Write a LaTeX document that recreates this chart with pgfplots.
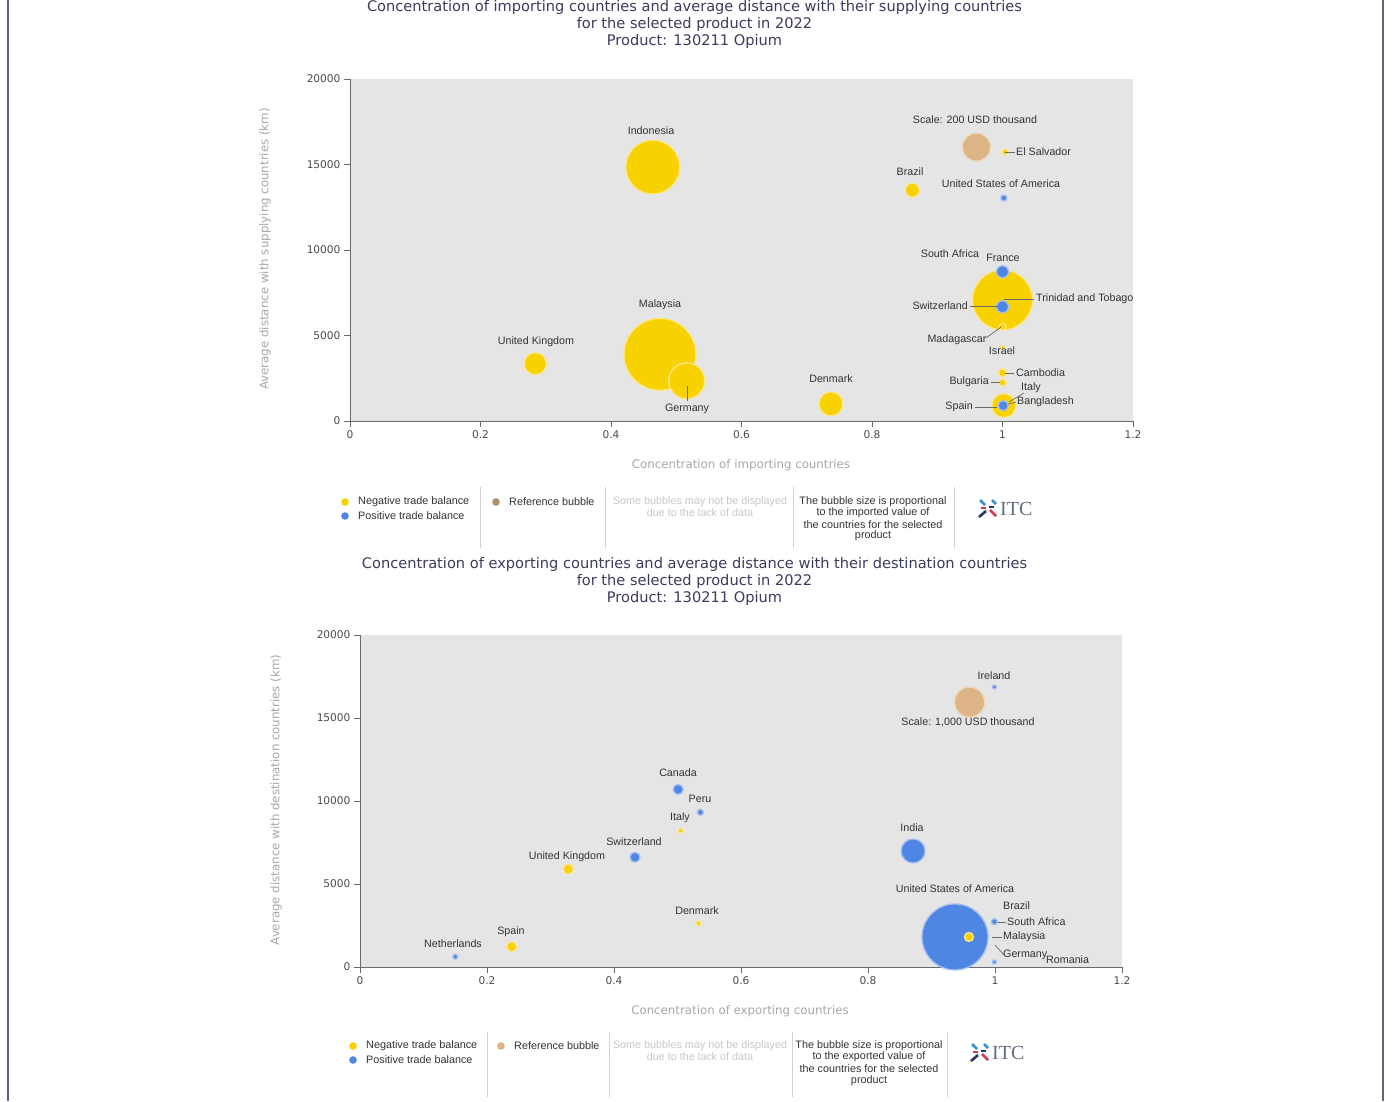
\documentclass[border=0pt]{standalone}
\usepackage{pgfplots}
\pgfplotsset{compat=1.18}
\usepackage{pgfplotstable}
\usepackage{fontspec}
\setmainfont{Liberation Sans}
\newfontfamily\dv{DejaVu Sans}
\newfontfamily\serifitc{Liberation Serif}

\definecolor{plotgray}{HTML}{E5E5E5}
\definecolor{axisgray}{HTML}{6A6A6A}
\definecolor{tickcol}{HTML}{4A4A4A}
\definecolor{ylw}{HTML}{F8D200}
\definecolor{ylwrim}{HTML}{FBE78A}
\definecolor{blu}{HTML}{4F86E3}
\definecolor{blurim}{HTML}{A3BFEF}
\definecolor{tanc}{HTML}{DDB485}
\definecolor{tanrim}{HTML}{EDD5B8}
\definecolor{titlecol}{HTML}{3B3B5E}
\definecolor{lblgray}{HTML}{A8A8A8}
\definecolor{txtcol}{HTML}{333333}
\definecolor{faint}{HTML}{C8C8C8}
\definecolor{sepgray}{HTML}{D2D2D2}
\definecolor{framecol}{HTML}{5B6585}
\definecolor{logoblue}{HTML}{3A8FD0}
\definecolor{logored}{HTML}{D9364F}
\definecolor{logonavy}{HTML}{2E3560}
\definecolor{logotext}{HTML}{646E7D}

% ---------- import chart data (x = concentration, y = distance km, r = bubble radius px)
\pgfplotstableread{
x y r name
0.475 3900 36 Malaysia
1.000 7080 30 TrinidadTobago
0.464 14850 27 Indonesia
0.516 2350 18 Germany
1.002 900 12 Bangladesh
0.737 1000 12 Denmark
0.284 3350 11 UnitedKingdom
0.862 13500 7 Brazil
1.000 2820 4 Cambodia
1.000 2240 3.5 Bulgaria
1.000 5510 3.5 Madagascar
1.004 15730 3 ElSalvador
1.000 4300 2 Israel
}\impneg
\pgfplotstableread{
x y r name
1.000 8730 6 France
1.000 6680 6 Switzerland
1.001 900 5 Spain
1.002 13040 3 USA
}\imppos
\pgfplotstableread{
x y r name
0.960 16020 14 Reference
}\impref

% ---------- export chart data
\pgfplotstableread{
x y r name
0.937 1810 33 USA
0.871 6990 12 India
0.501 10700 5 Canada
0.433 6610 5 Switzerland
0.536 9320 3 Peru
0.999 2730 3 Brazil
0.150 620 2.5 Netherlands
0.999 16870 2 Ireland
0.999 300 2 Romania
}\exppos
\pgfplotstableread{
x y r name
0.959 1810 4.5 Malaysia
0.328 5900 5 UnitedKingdom
0.239 1220 5 Spain
0.533 2630 2.5 Denmark
0.505 8210 2.5 Italy
}\expneg
\pgfplotstableread{
x y r name
0.960 15960 15 Reference
}\expref

\pgfplotsset{
  bubbleaxis/.style={
    scale only axis, xmin=0, xmax=1.2, ymin=0, ymax=20000,
    axis background/.style={fill=plotgray},
    axis x line*=bottom, axis y line*=left,
    axis line style={draw=axisgray, line width=0.9pt, -},
    xtick={0,0.2,0.4,0.6,0.8,1,1.2}, ytick={0,5000,10000,15000,20000},
    tick align=outside, major tick length=6pt,
    tick style={draw=axisgray, line width=0.9pt},
    tick label style={font=\dv\fontsize{10.6}{12}\selectfont, text=tickcol},
    /pgf/number format/assume math mode=true,
    /pgf/number format/1000 sep={},
    scaled y ticks=false, clip=false,
  },
  bubble/.style n args={2}{
    scatter, only marks, mark=*,
    scatter/use mapped color={draw=#2, fill=#1},
    visualization depends on={\thisrow{r}\as\rad},
    scatter/@pre marker code/.append style={/tikz/mark size=\rad},
    mark options={line width=1.3pt},
  },
}

\newcommand\itclogo[2]{%
  \begin{scope}[shift={(#1,#2)}]
    \draw[line width=2.6pt, logoblue] (2,-9) -- (7,-4);
    \draw[line width=2.6pt, logoblue] (14,-9) -- (18,-5);
    \draw[line width=2.6pt, logored] (12,1) -- (18,7);
    \draw[line width=2.6pt, logonavy] (1,8) -- (8,2);
    \draw[line width=2.6pt, logored] (3,-1) -- (8,-1);
    \draw[line width=2.6pt, logonavy] (11,-2) -- (16,-2);
    \node[anchor=west, inner sep=0pt, text=logotext] at (22,0) {\serifitc\fontsize{20}{20}\selectfont ITC};
  \end{scope}}

\begin{document}
\begin{tikzpicture}
\path[use as bounding box] (0pt,0pt) rectangle (1397pt,-1101pt);
\fill[white] (0pt,0pt) rectangle (1397pt,-1101pt);

% ================= TOP AXIS =================
\begin{axis}[bubbleaxis, width=783pt, height=342pt,
  at={(350pt,-421pt)}, anchor=south west]
  \addplot[bubble={tanc}{tanrim}] table[x=x,y=y] {\impref};
  \addplot[bubble={ylw}{ylwrim}] table[x=x,y=y] {\impneg};
  \addplot[bubble={blu}{blurim}] table[x=x,y=y] {\imppos};
\end{axis}

% ================= BOTTOM AXIS =================
\begin{axis}[bubbleaxis, width=762pt, height=332pt,
  at={(360pt,-967pt)}, anchor=south west]
  \addplot[bubble={tanc}{tanrim}] table[x=x,y=y] {\expref};
  \addplot[bubble={blu}{blurim}] table[x=x,y=y] {\exppos};
  \addplot[bubble={ylw}{ylwrim}] table[x=x,y=y] {\expneg};
\end{axis}

\begin{scope}[x=1pt,y=-1pt]
% page frame
\draw[framecol, line width=1.5pt] (8,0) -- (8,1101);
\draw[framecol, line width=1.5pt] (1383,0) -- (1383,1101);

% ---------- titles
\begin{scope}[every node/.style={inner sep=0pt, text=titlecol, font=\dv\fontsize{14.6}{17}\selectfont}]
\node at (694.5,7) {Concentration of importing countries and average distance with their supplying countries};
\node at (694.5,24) {for the selected product in 2022};
\node at (694.5,41) {Product: 130211 Opium};
\node at (694.5,564) {Concentration of exporting countries and average distance with their destination countries};
\node at (694.5,581) {for the selected product in 2022};
\node at (694.5,598) {Product: 130211 Opium};
\end{scope}

% ---------- axis titles
\begin{scope}[every node/.style={inner sep=0pt, text=lblgray, font=\dv\fontsize{11.8}{13}\selectfont}]
\node at (741,465) {Concentration of importing countries};
\node[rotate=90] at (265,249) {Average distance with supplying countries (km)};
\node at (740,1011) {Concentration of exporting countries};
\node[rotate=90] at (276,800) {Average distance with destination countries (km)};
\end{scope}

% ---------- bubble labels, import chart
\begin{scope}[every node/.style={inner sep=0pt, text=txtcol, font=\fontsize{10.7}{12}\selectfont}]
\node at (651,131) {Indonesia};
\node at (660,305) {Malaysia};
\node at (536,342) {United Kingdom};
\node at (687,409) {Germany};
\node at (831,379) {Denmark};
\node at (910,172) {Brazil};
\node at (975,120) {Scale: 200 USD thousand};
\node[anchor=west] at (1016,152) {El Salvador};
\node at (1001,184) {United States of America};
\node at (950,254) {South Africa};
\node at (1003,258) {France};
\node[anchor=west] at (1036,299) {Trinidad and Tobago};
\node[anchor=east] at (968,306) {Switzerland};
\node at (957,340) {Madagascar};
\node at (1002,351) {Israel};
\node[anchor=west] at (1016,373) {Cambodia};
\node[anchor=east] at (989,382) {Bulgaria};
\node at (1031,388) {Italy};
\node[anchor=west] at (1017,402) {Bangladesh};
\node[anchor=east] at (973,407) {Spain};
\end{scope}
\begin{scope}[line width=0.7pt]
\draw[axisgray] (1005,152) -- (1015,152);
\draw[axisgray] (687,386) -- (687,401);
\draw[axisgray] (1004,299) -- (1034,299);
\draw[axisgray] (970,306) -- (998,306);
\draw[axisgray] (986,338) -- (1001,327);
\draw[axisgray] (1005,373) -- (1014,373);
\draw[axisgray] (991,382) -- (1000,382);
\draw[axisgray] (1024,393) -- (1009,402);
\draw[axisgray] (1008,404) -- (1016,402);
\draw[axisgray] (975,407) -- (997,407);
\end{scope}

% ---------- bubble labels, export chart
\begin{scope}[every node/.style={inner sep=0pt, text=txtcol, font=\fontsize{10.7}{12}\selectfont}]
\node at (994,676) {Ireland};
\node at (968,722) {Scale: 1,000 USD thousand};
\node at (678,773) {Canada};
\node at (700,799) {Peru};
\node at (680,818) {Italy};
\node at (912,828) {India};
\node at (634,842) {Switzerland};
\node at (567,857) {United Kingdom};
\node at (697,911) {Denmark};
\node at (511,932) {Spain};
\node at (453,944) {Netherlands};
\node at (955,889) {United States of America};
\node[anchor=west] at (1003,906) {Brazil};
\node[anchor=west] at (1007,922) {South Africa};
\node[anchor=west] at (1003,937) {Malaysia};
\node[anchor=west] at (1003,955) {Germany};
\node[anchor=west] at (1046,960) {Romania};
\end{scope}
\begin{scope}[line width=0.7pt]
\draw[axisgray] (998,922) -- (1006,922);
\draw[axisgray] (992,937) -- (1002,937);
\draw[axisgray] (995,945) -- (1004,955);
\end{scope}

% ---------- legends
\begin{scope}[every node/.style={inner sep=0pt, text=txtcol, font=\fontsize{10.8}{12}\selectfont}]
% top
\fill[ylw] (345,502) circle (3.8);
\fill[blu] (345,516) circle (3.8);
\node[anchor=west] at (358,502) {Negative trade balance};
\node[anchor=west] at (358,516) {Positive trade balance};
\fill[tanc!80!black] (496,502) circle (3.8);
\node[anchor=west] at (509,502) {Reference bubble};
\node[text=faint] at (700,502) {Some bubbles may not be displayed};
\node[text=faint] at (700,513) {due to the lack of data};
\node at (873,502) {The bubble size is proportional};
\node at (873,513) {to the imported value of};
\node at (873,525) {the countries for the selected};
\node at (873,536) {product};
\foreach \sx in {480,605,793,954} \draw[sepgray, line width=0.8pt] (\sx,487) -- (\sx,548);
% bottom
\fill[ylw] (353,1046) circle (3.8);
\fill[blu] (353,1060) circle (3.8);
\node[anchor=west] at (366,1046) {Negative trade balance};
\node[anchor=west] at (366,1060) {Positive trade balance};
\fill[tanc] (501,1046) circle (3.8);
\node[anchor=west] at (514,1046) {Reference bubble};
\node[text=faint] at (700,1046) {Some bubbles may not be displayed};
\node[text=faint] at (700,1057) {due to the lack of data};
\node at (869,1046) {The bubble size is proportional};
\node at (869,1057) {to the exported value of};
\node at (869,1069) {the countries for the selected};
\node at (869,1081) {product};
\foreach \sx in {487,609,792,947} \draw[sepgray, line width=0.8pt] (\sx,1032) -- (\sx,1097);
\end{scope}
\itclogo{978}{509}
\itclogo{970}{1053}
\end{scope}
\end{tikzpicture}
\end{document}
